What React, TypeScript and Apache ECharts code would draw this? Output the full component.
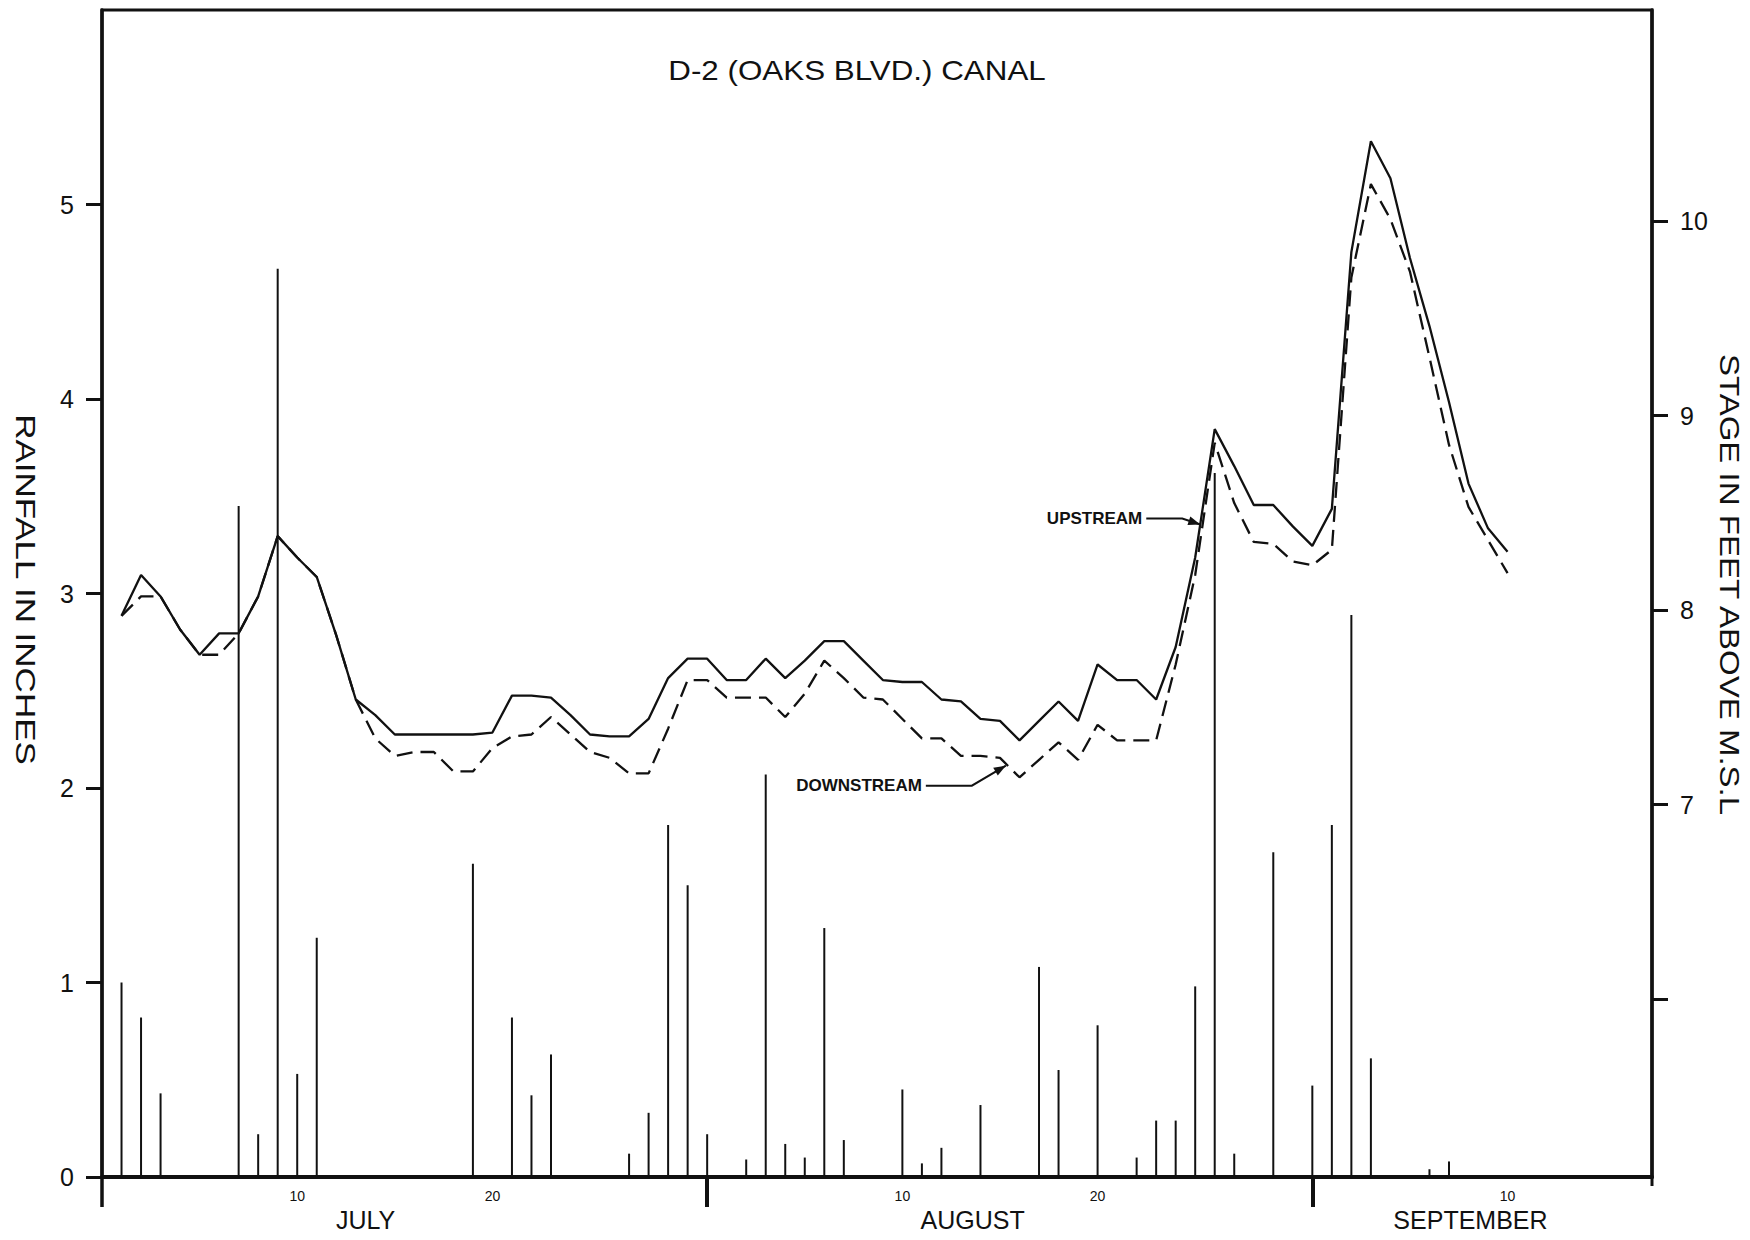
import React, { useEffect, useRef } from "react";
import * as echarts from "echarts";

// ---- data (day index: 1 = July 1, 32 = Aug 1, 63 = Sep 1) ----
const DAYS = [
  1, 2, 3, 4, 5, 6, 7, 8, 9, 10, 11, 12, 13, 14, 15, 16, 17, 18, 19, 20, 21, 22, 23, 24,
  25, 26, 27, 28, 29, 30, 31, 32, 33, 34, 35, 36, 37, 38, 39, 40, 41, 42, 43, 44, 45, 46, 47, 48,
  49, 50, 51, 52, 53, 54, 55, 56, 57, 58, 59, 60, 61, 62, 63, 64, 65, 66, 67, 68, 69, 70, 71, 72,
];

// stage in feet above M.S.L.
const UPSTREAM_FT = [
  7.97, 8.18, 8.07, 7.9, 7.77, 7.88, 7.88, 8.07, 8.38, 8.27, 8.17, 7.87, 7.54, 7.46, 7.36, 7.36,
  7.36, 7.36, 7.36, 7.37, 7.56, 7.56, 7.55, 7.46, 7.36, 7.35, 7.35, 7.44, 7.65, 7.75, 7.75, 7.64,
  7.64, 7.75, 7.65, 7.74, 7.84, 7.84, 7.74, 7.64, 7.63, 7.63, 7.54, 7.53, 7.44, 7.43, 7.33, 7.43,
  7.53, 7.43, 7.72, 7.64, 7.64, 7.54, 7.81, 8.27, 8.93, 8.74, 8.54, 8.54, 8.43, 8.33, 8.52, 9.84,
  10.41, 10.22, 9.81, 9.46, 9.07, 8.65, 8.42, 8.3,
];
const DOWNSTREAM_FT = [
  7.97, 8.07, 8.07, 7.9, 7.77, 7.77, 7.88, 8.07, 8.38, 8.27, 8.17, 7.87, 7.54, 7.34, 7.25, 7.27,
  7.27, 7.17, 7.17, 7.29, 7.35, 7.36, 7.45, 7.36, 7.27, 7.24, 7.16, 7.16, 7.39, 7.64, 7.64, 7.55,
  7.55, 7.55, 7.45, 7.57, 7.74, 7.65, 7.55, 7.54, 7.44, 7.34, 7.34, 7.25, 7.25, 7.24, 7.14, 7.23,
  7.32, 7.23, 7.41, 7.33, 7.33, 7.33, 7.72, 8.18, 8.86, 8.55, 8.35, 8.34, 8.25, 8.23, 8.31, 9.71,
  10.19, 10.01, 9.74, 9.3, 8.85, 8.53, 8.36, 8.19,
];

// daily rainfall in inches
const RAIN_DAYS = [
  1, 2, 3, 7, 8, 9, 10, 11, 19, 21, 22, 23, 27, 28, 29, 30, 31, 33, 34, 35, 36, 37, 38, 41, 42,
  43, 45, 48, 49, 51, 53, 54, 55, 56, 57, 58, 60, 62, 63, 64, 65, 68, 69,
];
const RAIN_IN = [
  1.0, 0.82, 0.43, 3.45, 0.22, 4.67, 0.53, 1.23, 1.61, 0.82, 0.42, 0.63, 0.12, 0.33, 1.81, 1.5,
  0.22, 0.09, 2.07, 0.17, 0.1, 1.28, 0.19, 0.45, 0.07, 0.15, 0.37, 1.08, 0.55, 0.78, 0.1, 0.29,
  0.29, 0.98, 3.62, 0.12, 1.67, 0.47, 1.81, 2.89, 0.61, 0.04, 0.08,
];

// axes / labels
const LEFT_TICKS = [0, 1, 2, 3, 4, 5];
const RIGHT_TICKS = [6, 7, 8, 9, 10];
const RIGHT_LABELS = [7, 8, 9, 10];
const DAY_LABEL_POS = [10, 20, 41, 51, 72];
const DAY_LABELS = ["10", "20", "10", "20", "10"];
const MONTH_BOUNDS = [31, 62];
const MONTH_POS = [13.5, 44.6, 70.1];
const MONTH_NAMES = ["JULY", "AUGUST", "SEPTEMBER"];

const TITLE = "D-2 (OAKS BLVD.) CANAL";
const LEFT_NAME = "RAINFALL IN INCHES";
const RIGHT_NAME = "STAGE IN FEET ABOVE M.S.L";
const UP_NAME = "UPSTREAM";
const DOWN_NAME = "DOWNSTREAM";
// arrow tips (day, feet)
const UP_TIP = [56.26, 8.44];
const DOWN_TIP = [46.3, 7.2];

const FONT = "'Liberation Sans', Arial, sans-serif";
const INK = "#111";

function arrowHead(tip: number[], from: number[], len = 12, half = 4.5) {
  const dx = tip[0] - from[0];
  const dy = tip[1] - from[1];
  const L = Math.hypot(dx, dy) || 1;
  const ux = dx / L;
  const uy = dy / L;
  const nx = -uy;
  const ny = ux;
  return [
    [tip[0], tip[1]],
    [tip[0] - len * ux + half * nx, tip[1] - len * uy + half * ny],
    [tip[0] - len * ux - half * nx, tip[1] - len * uy - half * ny],
  ];
}

export default function App() {
  const ref = useRef<HTMLDivElement>(null);

  useEffect(() => {
    const el = ref.current!;
    const chart = echarts.init(el, null, { renderer: "svg" });
    const axisLine = { color: INK, width: 3.5 };

    const option: any = {
      animation: false,
      backgroundColor: "#ffffff",
      grid: {
        left: 102,
        right: 98,
        top: 10,
        bottom: 63,
        show: true,
        borderColor: INK,
        borderWidth: 3,
        backgroundColor: "transparent",
      },
      xAxis: [
        {
          type: "value",
          min: 0,
          max: 79.4,
          position: "bottom",
          axisLine: { onZero: false, lineStyle: { color: INK, width: 4 } },
          axisTick: {
            show: true,
            customValues: MONTH_BOUNDS,
            length: 30,
            inside: false,
            lineStyle: { color: INK, width: 4 },
          },
          axisLabel: {
            customValues: DAY_LABEL_POS,
            formatter: (v: number) => {
              const i = DAY_LABEL_POS.indexOf(v);
              return i >= 0 ? DAY_LABELS[i] : "";
            },
            fontSize: 14,
            margin: 12,
            color: INK,
            fontFamily: FONT,
          },
          splitLine: { show: false },
        },
        {
          type: "value",
          min: 0,
          max: 79.4,
          position: "bottom",
          axisLine: { show: false },
          axisTick: { show: false },
          axisLabel: {
            customValues: MONTH_POS,
            formatter: (v: number) => {
              const i = MONTH_POS.indexOf(v);
              return i >= 0 ? MONTH_NAMES[i] : "";
            },
            fontSize: 25,
            margin: 30,
            color: INK,
            fontFamily: FONT,
          },
          splitLine: { show: false },
        },
      ],
      yAxis: [
        {
          type: "value",
          min: 0,
          max: 6,
          position: "left",
          axisLine: { show: true, onZero: false, lineStyle: axisLine },
          axisTick: {
            show: true,
            customValues: LEFT_TICKS,
            length: 16,
            lineStyle: { color: INK, width: 3 },
          },
          axisLabel: {
            customValues: LEFT_TICKS,
            fontSize: 25,
            margin: 28,
            align: "right",
            color: INK,
            fontFamily: FONT,
          },
          splitLine: { show: false },
        },
        {
          type: "value",
          min: 5.085,
          max: 11.085,
          position: "right",
          axisLine: { show: true, onZero: false, lineStyle: axisLine },
          axisTick: {
            show: true,
            customValues: RIGHT_TICKS,
            length: 16,
            lineStyle: { color: INK, width: 3 },
          },
          axisLabel: {
            customValues: RIGHT_LABELS,
            fontSize: 25,
            margin: 28,
            align: "left",
            color: INK,
            fontFamily: FONT,
          },
          splitLine: { show: false },
        },
      ],
      series: [
        {
          name: "Rainfall",
          type: "bar",
          xAxisIndex: 0,
          yAxisIndex: 0,
          barWidth: 2,
          itemStyle: { color: INK },
          data: RAIN_DAYS.map((d, i) => [d, RAIN_IN[i]]),
        },
        {
          name: UP_NAME,
          type: "line",
          xAxisIndex: 0,
          yAxisIndex: 1,
          symbol: "none",
          lineStyle: { color: INK, width: 2.3, type: "solid" },
          data: DAYS.map((d, i) => [d, UPSTREAM_FT[i]]),
        },
        {
          name: DOWN_NAME,
          type: "line",
          xAxisIndex: 0,
          yAxisIndex: 1,
          symbol: "none",
          lineStyle: { color: INK, width: 2.3, type: [16, 8] },
          data: DAYS.map((d, i) => [d, DOWNSTREAM_FT[i]]),
        },
      ],
    };
    chart.setOption(option);

    const px = (d: number) => chart.convertToPixel({ xAxisIndex: 0 }, d) as number;
    const pyL = (v: number) => chart.convertToPixel({ yAxisIndex: 0 }, v) as number;
    const pyR = (v: number) => chart.convertToPixel({ yAxisIndex: 1 }, v) as number;

    const x0 = px(0);
    const x1 = px(79.4);
    const yBase = pyL(0);
    const yTop = pyL(6);
    const midY = (yBase + yTop) / 2;

    const upTip = [px(UP_TIP[0]), pyR(UP_TIP[1])];
    const upPts = [
      [upTip[0] - 54, upTip[1] - 6],
      [upTip[0] - 18, upTip[1] - 6],
      upTip,
    ];
    const downTip = [px(DOWN_TIP[0]), pyR(DOWN_TIP[1])];
    const downPts = [
      [downTip[0] - 80, downTip[1] + 20],
      [downTip[0] - 34, downTip[1] + 20],
      downTip,
    ];

    const lineStyle = { stroke: INK, lineWidth: 2, fill: null };

    chart.setOption({
      graphic: [
        {
          type: "line",
          shape: { x1: x0, y1: yBase, x2: x0, y2: yBase + 30 },
          style: { stroke: INK, lineWidth: 3.5 },
        },
        {
          type: "line",
          shape: { x1: x1, y1: yBase, x2: x1, y2: yBase + 9 },
          style: { stroke: INK, lineWidth: 3 },
        },
        {
          type: "text",
          x: 857,
          y: 70,
          scaleX: 1.12,
          style: {
            text: TITLE,
            font: `28px ${FONT}`,
            fill: INK,
            align: "center",
            verticalAlign: "middle",
          },
        },
        {
          type: "text",
          x: 26,
          y: midY - 4,
          rotation: -Math.PI / 2,
          scaleX: 1.25,
          style: {
            text: LEFT_NAME,
            font: `28px ${FONT}`,
            fill: INK,
            align: "center",
            verticalAlign: "middle",
          },
        },
        {
          type: "text",
          x: 1730,
          y: midY - 9,
          rotation: -Math.PI / 2,
          scaleX: 1.18,
          style: {
            text: RIGHT_NAME,
            font: `28px ${FONT}`,
            fill: INK,
            align: "center",
            verticalAlign: "middle",
          },
        },
        {
          type: "text",
          x: upTip[0] - 58,
          y: upTip[1] - 6,
          style: {
            text: UP_NAME,
            font: `bold 17px ${FONT}`,
            fill: INK,
            align: "right",
            verticalAlign: "middle",
          },
        },
        {
          type: "polyline",
          shape: { points: upPts },
          style: lineStyle,
        },
        {
          type: "polygon",
          shape: { points: arrowHead(upTip, upPts[1]) },
          style: { fill: INK },
        },
        {
          type: "text",
          x: downTip[0] - 84,
          y: downTip[1] + 20,
          style: {
            text: DOWN_NAME,
            font: `bold 17px ${FONT}`,
            fill: INK,
            align: "right",
            verticalAlign: "middle",
          },
        },
        {
          type: "polyline",
          shape: { points: downPts },
          style: lineStyle,
        },
        {
          type: "polygon",
          shape: { points: arrowHead(downTip, downPts[1]) },
          style: { fill: INK },
        },
      ],
    });

    return () => chart.dispose();
  }, []);

  return (
    <div
      ref={ref}
      style={{ position: "fixed", left: 0, top: 0, width: 1750, height: 1240, background: "#fff" }}
    />
  );
}
